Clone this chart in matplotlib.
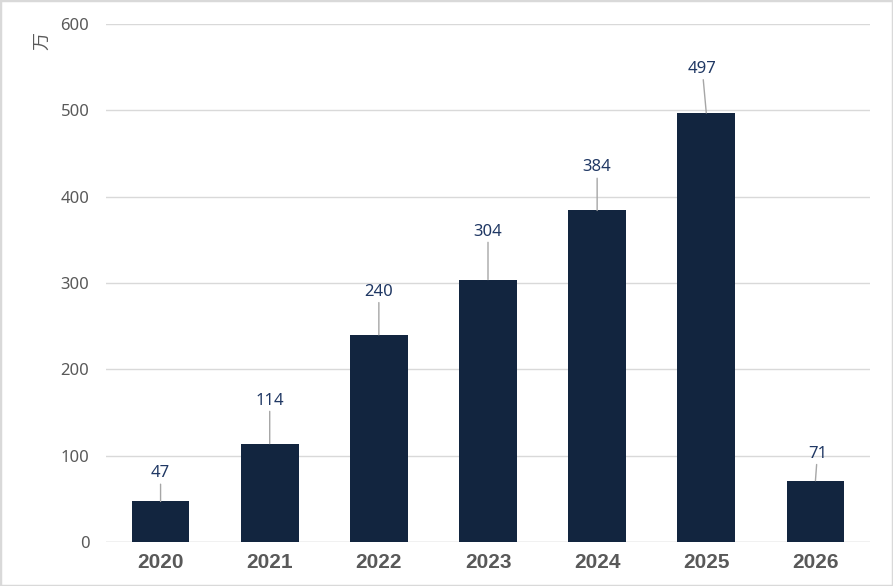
import matplotlib
matplotlib.use("Agg")
import matplotlib.pyplot as plt
from matplotlib.patches import Rectangle

# data
years = ["2020", "2021", "2022", "2023", "2024", "2025", "2026"]
values = [47, 114, 240, 304, 384, 497, 71]
y_ticks = [0, 100, 200, 300, 400, 500, 600]
unit_label = "万"

# label placement (pixels above bar top, horizontal nudge)
label_dy = [28, 43, 43, 48, 43, 44, 27]
label_dx = [0, 0, 0, 0, 0, -4, 2]

bar_color = "#12253F"
label_color = "#203864"
tick_color = "#595959"
grid_color = "#D9D9D9"

plt.rcParams["font.family"] = ["Noto Sans", "DejaVu Sans"]

fig = plt.figure(figsize=(8.93, 5.86), dpi=100)
ax = fig.add_axes([106 / 893, 1 - 542 / 586, 764 / 893, 518 / 586])

x = list(range(len(years)))
ax.bar(x, values, width=0.53, color=bar_color, zorder=3)

for xi, v, dy, dx in zip(x, values, label_dy, label_dx):
    ax.annotate(str(v), xy=(xi, v), xytext=(dx, dy), textcoords="offset pixels",
                ha="center", va="center", fontsize=12, color=label_color,
                arrowprops=dict(arrowstyle="-", color="#A6A6A6", lw=1,
                                shrinkA=0, shrinkB=0),
                zorder=4)

ax.set_xlim(-0.5, len(years) - 0.5)
ax.set_ylim(0, 600)
ax.set_yticks(y_ticks)
ax.set_xticks(x)
ax.set_xticklabels(years, fontsize=15, fontweight="bold", color=tick_color,
                   family=["Liberation Sans", "DejaVu Sans"])
ax.tick_params(axis="y", labelsize=12, colors=tick_color, length=0, pad=12)
ax.tick_params(axis="x", length=0, pad=8)
ax.yaxis.grid(True, color=grid_color, lw=1, zorder=0)
for s in ax.spines.values():
    s.set_visible(False)
ax.axhline(0, color=grid_color, lw=1, zorder=2)

fig.text(42 / 893, 1 - 41 / 586, unit_label, rotation=90, ha="center", va="center",
         fontsize=13, color=tick_color, family=["Noto Sans CJK SC", "DejaVu Sans"])

fig.patches.append(Rectangle((0, 0), 1, 1, transform=fig.transFigure, fill=False,
                             edgecolor="#D9D9D9", lw=2.5))

fig.savefig("out.png", dpi=100)
